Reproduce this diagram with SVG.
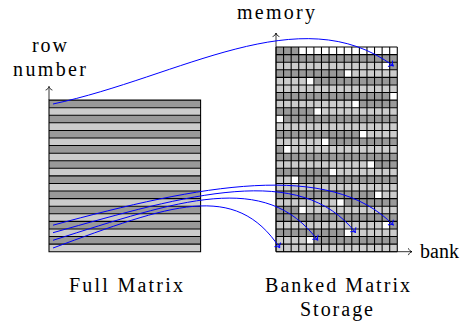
<svg xmlns="http://www.w3.org/2000/svg" width="472" height="327" viewBox="0 0 472 327">
<style>
.L{fill:#cccccc}
.D{fill:#999999}
.W{fill:#ffffff}
.gl{fill:none;stroke:#000;stroke-width:0.14}
.ax{fill:none;stroke:#000;stroke-width:0.8}
.bl{fill:none;stroke:#0000ff;stroke-width:1}
.t{font-family:'Liberation Serif','Times New Roman',Times,serif;font-size:20px;fill:#000}
</style>
<defs>
<marker id="ka" markerUnits="userSpaceOnUse" orient="auto" refX="0" refY="0" markerWidth="8" markerHeight="10" overflow="visible">
<path d="M-3.6,-3.4 C-3,-1.4 -1.2,-0.3 0,0 C-1.2,0.3 -3,1.4 -3.6,3.4" fill="none" stroke="#000" stroke-width="0.8"/>
</marker>
<marker id="ba" markerUnits="userSpaceOnUse" orient="auto" refX="0" refY="0" markerWidth="8" markerHeight="10" overflow="visible">
<path d="M-4,-3.8 C-3.3,-1.6 -1.3,-0.3 0,0 C-1.3,0.3 -3.3,1.6 -4,3.8" fill="none" stroke="#0000ff" stroke-width="1"/>
</marker>
</defs>

<g id="full-matrix" transform="translate(49,100.1) scale(7.58)">
<rect class="D" x="0" y="0" width="20" height="1"/>
<rect class="L" x="0" y="1" width="20" height="1"/>
<rect class="D" x="0" y="2" width="20" height="1"/>
<rect class="L" x="0" y="3" width="20" height="1"/>
<rect class="D" x="0" y="4" width="20" height="1"/>
<rect class="L" x="0" y="5" width="20" height="1"/>
<rect class="D" x="0" y="6" width="20" height="1"/>
<rect class="L" x="0" y="7" width="20" height="1"/>
<rect class="D" x="0" y="8" width="20" height="1"/>
<rect class="L" x="0" y="9" width="20" height="1"/>
<rect class="D" x="0" y="10" width="20" height="1"/>
<rect class="L" x="0" y="11" width="20" height="1"/>
<rect class="D" x="0" y="12" width="20" height="1"/>
<rect class="L" x="0" y="13" width="20" height="1"/>
<rect class="D" x="0" y="14" width="20" height="1"/>
<rect class="L" x="0" y="15" width="20" height="1"/>
<rect class="D" x="0" y="16" width="20" height="1"/>
<rect class="L" x="0" y="17" width="20" height="1"/>
<rect class="D" x="0" y="18" width="20" height="1"/>
<rect class="L" x="0" y="19" width="20" height="1"/>
<path class="gl" d="M0,0H20V20H0Z M0,1H20 M0,2H20 M0,3H20 M0,4H20 M0,5H20 M0,6H20 M0,7H20 M0,8H20 M0,9H20 M0,10H20 M0,11H20 M0,12H20 M0,13H20 M0,14H20 M0,15H20 M0,16H20 M0,17H20 M0,18H20 M0,19H20"/>
</g>

<g id="banked-storage" transform="translate(276,47.04) scale(7.58)">
<rect class="W" x="0" y="0" width="16" height="27"/>
<rect class="L" x="0" y="26" width="16" height="1"/>
<rect class="L" x="0" y="25" width="4" height="1"/>
<rect class="L" x="10" y="24" width="6" height="1"/>
<rect class="L" x="0" y="23" width="14" height="1"/>
<rect class="L" x="4" y="21" width="12" height="1"/>
<rect class="L" x="0" y="20" width="8" height="1"/>
<rect class="L" x="14" y="19" width="2" height="1"/>
<rect class="L" x="0" y="18" width="16" height="1"/>
<rect class="L" x="0" y="17" width="2" height="1"/>
<rect class="L" x="8" y="16" width="8" height="1"/>
<rect class="L" x="0" y="15" width="12" height="1"/>
<rect class="L" x="2" y="13" width="14" height="1"/>
<rect class="L" x="0" y="12" width="6" height="1"/>
<rect class="L" x="12" y="11" width="4" height="1"/>
<rect class="L" x="0" y="10" width="16" height="1"/>
<rect class="L" x="6" y="8" width="10" height="1"/>
<rect class="L" x="0" y="7" width="10" height="1"/>
<rect class="L" x="0" y="5" width="16" height="1"/>
<rect class="L" x="0" y="4" width="4" height="1"/>
<rect class="L" x="10" y="3" width="6" height="1"/>
<rect class="L" x="0" y="2" width="14" height="1"/>
<rect class="D" x="5" y="25" width="11" height="1"/>
<rect class="D" x="0" y="24" width="9" height="1"/>
<rect class="D" x="15" y="23" width="1" height="1"/>
<rect class="D" x="0" y="22" width="16" height="1"/>
<rect class="D" x="0" y="21" width="3" height="1"/>
<rect class="D" x="9" y="20" width="7" height="1"/>
<rect class="D" x="0" y="19" width="13" height="1"/>
<rect class="D" x="3" y="17" width="13" height="1"/>
<rect class="D" x="0" y="16" width="7" height="1"/>
<rect class="D" x="13" y="15" width="3" height="1"/>
<rect class="D" x="0" y="14" width="16" height="1"/>
<rect class="D" x="0" y="13" width="1" height="1"/>
<rect class="D" x="7" y="12" width="9" height="1"/>
<rect class="D" x="0" y="11" width="11" height="1"/>
<rect class="D" x="1" y="9" width="15" height="1"/>
<rect class="D" x="0" y="8" width="5" height="1"/>
<rect class="D" x="11" y="7" width="5" height="1"/>
<rect class="D" x="0" y="6" width="15" height="1"/>
<rect class="D" x="5" y="4" width="11" height="1"/>
<rect class="D" x="0" y="3" width="9" height="1"/>
<rect class="D" x="15" y="2" width="1" height="1"/>
<rect class="D" x="0" y="1" width="16" height="1"/>
<rect class="D" x="0" y="0" width="3" height="1"/>
<path class="gl" d="M0,0H16 M0,1H16 M0,2H16 M0,3H16 M0,4H16 M0,5H16 M0,6H16 M0,7H16 M0,8H16 M0,9H16 M0,10H16 M0,11H16 M0,12H16 M0,13H16 M0,14H16 M0,15H16 M0,16H16 M0,17H16 M0,18H16 M0,19H16 M0,20H16 M0,21H16 M0,22H16 M0,23H16 M0,24H16 M0,25H16 M0,26H16 M0,27H16 M0,0V27 M1,0V27 M2,0V27 M3,0V27 M4,0V27 M5,0V27 M6,0V27 M7,0V27 M8,0V27 M9,0V27 M10,0V27 M11,0V27 M12,0V27 M13,0V27 M14,0V27 M15,0V27 M16,0V27"/>
</g>

<g id="axes">
<path class="ax" d="M49,100 V86.5" marker-end="url(#ka)"/>
<path class="ax" d="M276,251.7 V33" marker-end="url(#ka)"/>
<path class="ax" d="M276,251.7 H412" marker-end="url(#ka)"/>
</g>

<g id="connectors">
<path class="bl" d="M53,104 C180,77 300,-3 393.5,66" marker-end="url(#ba)"/>
<path class="bl" d="M53,225.2 C200,185 330,160 393.5,225.2" marker-end="url(#ba)"/>
<path class="bl" d="M53,232.7 C190,194 300,162 355.6,232.7" marker-end="url(#ba)"/>
<path class="bl" d="M53,240.3 C180,200 265,170 317.7,240.3" marker-end="url(#ba)"/>
<path class="bl" d="M53,248 C170,205 235,180 279.8,248" marker-end="url(#ba)"/>
</g>

<g id="labels">
<text class="t" x="237" y="19" textLength="78" lengthAdjust="spacing">memory</text>
<text class="t" x="32" y="52" textLength="35" lengthAdjust="spacing">row</text>
<text class="t" x="13" y="76" textLength="73" lengthAdjust="spacing">number</text>
<text class="t" x="420" y="258">bank</text>
<text class="t" x="69" y="292" textLength="114" lengthAdjust="spacing">Full Matrix</text>
<text class="t" x="265" y="292" textLength="145" lengthAdjust="spacing">Banked Matrix</text>
<text class="t" x="300" y="316" textLength="73" lengthAdjust="spacing">Storage</text>
</g>
</svg>
